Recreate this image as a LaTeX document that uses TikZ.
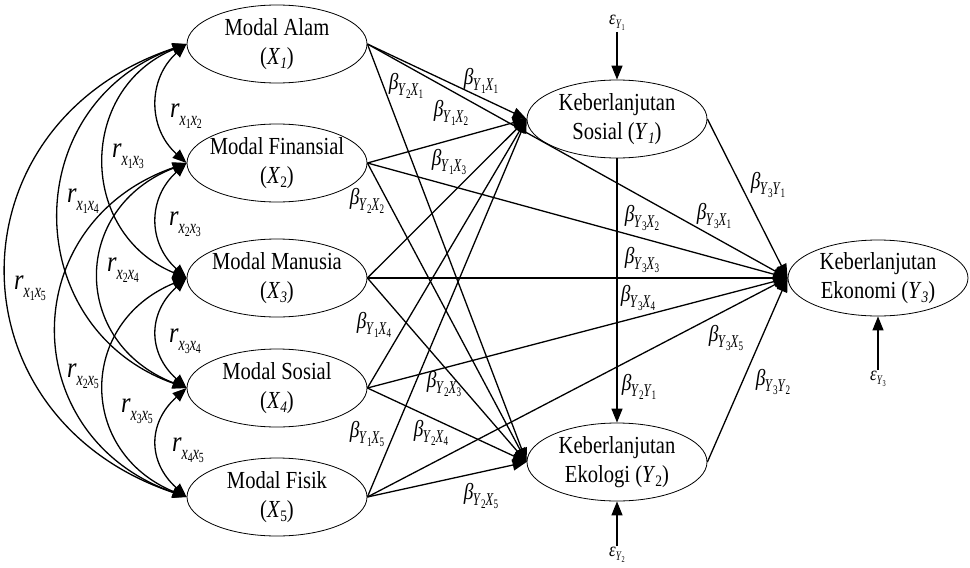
\documentclass[tikz,border=0pt]{standalone}
\usepackage{fontspec}
\setmainfont{Liberation Serif}[FakeStretch=0.84]
\newfontfamily\narrowfont{Liberation Serif}[FakeStretch=0.70]
\usetikzlibrary{shapes.geometric,arrows.meta}

% lowered index inside the variable names
\newcommand\vsub[1]{\raisebox{-4pt}{\fontsize{16}{16}\selectfont #1}}
% path coefficient beta with a double index
\newcommand\coefB[4]{\textit{β}\kern-0.5pt\raisebox{-6pt}{\narrowfont\fontsize{18}{18}\selectfont\textit{#1}\raisebox{-3pt}{\fontsize{13}{13}\selectfont #2}\textit{#3}\raisebox{-3pt}{\fontsize{13}{13}\selectfont #4}}}
% correlation coefficient r with a double index
\newcommand\coefR[4]{\textit{r}\raisebox{-8pt}{\narrowfont\fontsize{20}{20}\selectfont\textit{#1}\raisebox{-3pt}{\fontsize{14}{14}\selectfont #2}\textit{#3}\raisebox{-3pt}{\fontsize{14}{14}\selectfont #4}}}
% error term
\newcommand\errterm[2]{\textit{ε}\raisebox{-4pt}{\narrowfont\fontsize{13}{13}\selectfont\textit{#1}\raisebox{-2pt}{\fontsize{9}{9}\selectfont #2}}}

\tikzset{
  var/.style={ellipse, draw, line width=0.8pt, minimum width=180pt, minimum height=78pt,
    inner xsep=-30pt, inner ysep=-8pt, align=center, font=\fontsize{24.5}{29.5}\selectfont},
  arr/.style={line width=1.3pt, -{Triangle[length=14pt,width=11pt]}},
  corr/.style={line width=1.3pt, {Triangle[length=14pt,width=11pt]}-{Triangle[length=14pt,width=11pt]}},
  blbl/.style={inner sep=0pt, font=\fontsize{23}{23}\selectfont},
  rlbl/.style={inner sep=0pt, font=\fontsize{29}{29}\selectfont},
  elbl/.style={inner sep=1pt, font=\fontsize{20}{20}\selectfont},
}

\begin{document}
\begin{tikzpicture}[x=1pt, y=-1pt]
\useasboundingbox (0,0) rectangle (970,568);

% latent variables
\node[var] (X1) at (277,44)  {Modal Alam\\(\textit{X}\vsub{\textit{1}})};
\node[var] (X2) at (277,163) {Modal Finansial\\(\textit{X}\vsub{2})};
\node[var] (X3) at (277,278) {Modal Manusia\\(\textit{X}\vsub{\textit{3}})};
\node[var] (X4) at (277,388) {Modal Sosial\\(\textit{X}\vsub{\textit{4}})};
\node[var] (X5) at (277,497) {Modal Fisik\\(\textit{X}\vsub{5})};
\node[var] (Y1) at (617,119) {Keberlanjutan\\Sosial (\textit{Y}\vsub{\textit{1}})};
\node[var] (Y2) at (617,462) {Keberlanjutan\\Ekologi (\textit{Y}\vsub{2})};
\node[var, minimum height=76pt] (Y3) at (878,278) {Keberlanjutan\\Ekonomi (\textit{Y}\vsub{\textit{3}})};

% error terms
\node[elbl] (e1) at (617,23)  {\errterm{Y}{1}};
\node[elbl] (e2) at (617,555) {\errterm{Y}{2}};
\node[elbl] (e3) at (878,379) {\errterm{Y}{3}};
\draw[arr] (e1.south) -- (Y1.north);
\draw[arr] (e2.north) -- (Y2.south);
\draw[arr] (e3.north) -- (Y3.south);

% direct paths
\foreach \s in {X1,X2,X3,X4,X5}{
  \draw[arr] (\s.east) -- (Y1.west);
  \draw[arr] (\s.east) -- (Y2.west);
  \draw[arr] (\s.east) -- (Y3.west);
}
\draw[arr] (Y1.east) -- (Y3.west);
\draw[arr] (Y2.east) -- (Y3.west);
\draw[arr] (Y1.south) -- (Y2.north);

% correlations between the exogenous variables
\draw[corr] (X1.west) .. controls +(-39,35) and +(-39,-35) .. (X2.west);
\draw[corr] (X2.west) .. controls +(-39,35) and +(-39,-35) .. (X3.west);
\draw[corr] (X3.west) .. controls +(-39,35) and +(-39,-35) .. (X4.west);
\draw[corr] (X4.west) .. controls +(-39,35) and +(-39,-35) .. (X5.west);
\draw[corr] (X1.west) .. controls +(-109,45) and +(-109,-45) .. (X3.west);
\draw[corr] (X2.west) .. controls +(-116,45) and +(-116,-45) .. (X4.west);
\draw[corr] (X3.west) .. controls +(-109,45) and +(-109,-45) .. (X5.west);
\draw[corr] (X1.west) .. controls +(-169,60) and +(-169,-60) .. (X4.west);
\draw[corr] (X2.west) .. controls +(-172,60) and +(-172,-60) .. (X5.west);
\draw[corr] (X1.west) .. controls +(-239,80) and +(-239,-80) .. (X5.west);

% correlation labels
\node[rlbl] (r12) at (186,116) {\coefR{x}{1}{x}{2}};
\node[rlbl] (r13) at (128,156) {\coefR{x}{1}{x}{3}};
\node[rlbl] (r14) at (83,201)  {\coefR{x}{1}{x}{4}};
\node[rlbl] (r23) at (185,224) {\coefR{x}{2}{x}{3}};
\node[rlbl] (r24) at (123,270) {\coefR{x}{2}{x}{4}};
\node[rlbl] (r15) at (30,288)  {\coefR{x}{1}{x}{5}};
\node[rlbl] (r34) at (185,341) {\coefR{x}{3}{x}{4}};
\node[rlbl] (r25) at (83,376)  {\coefR{x}{2}{x}{5}};
\node[rlbl] (r35) at (137,411) {\coefR{x}{3}{x}{5}};
\node[rlbl] (r45) at (188,450) {\coefR{x}{4}{x}{5}};

% path coefficient labels
\node[blbl] (b11) at (481,81)  {\coefB{Y}{1}{X}{1}};
\node[blbl] (b21) at (406,86)  {\coefB{Y}{2}{X}{1}};
\node[blbl] (b12) at (451,113) {\coefB{Y}{1}{X}{2}};
\node[blbl] (b13) at (449,162) {\coefB{Y}{1}{X}{3}};
\node[blbl] (b22) at (367,201) {\coefB{Y}{2}{X}{2}};
\node[blbl] (b14) at (374,325) {\coefB{Y}{1}{X}{4}};
\node[blbl] (b23) at (444,384) {\coefB{Y}{2}{X}{3}};
\node[blbl] (b24) at (431,433) {\coefB{Y}{2}{X}{4}};
\node[blbl] (b15) at (367,434) {\coefB{Y}{1}{X}{5}};
\node[blbl] (b25) at (481,496) {\coefB{Y}{2}{X}{5}};
\node[blbl] (b3y1) at (768,185) {\coefB{Y}{3}{Y}{1}};
\node[blbl] (b31) at (714,216) {\coefB{Y}{3}{X}{1}};
\node[blbl] (b32) at (642,218) {\coefB{Y}{3}{X}{2}};
\node[blbl] (b33) at (642,260) {\coefB{Y}{3}{X}{3}};
\node[blbl] (b34) at (638,298) {\coefB{Y}{3}{X}{4}};
\node[blbl] (b35) at (726,338) {\coefB{Y}{3}{X}{5}};
\node[blbl] (b3y2) at (773,382) {\coefB{Y}{3}{Y}{2}};
\node[blbl] (b2y1) at (639,387) {\coefB{Y}{2}{Y}{1}};
\end{tikzpicture}
\end{document}
